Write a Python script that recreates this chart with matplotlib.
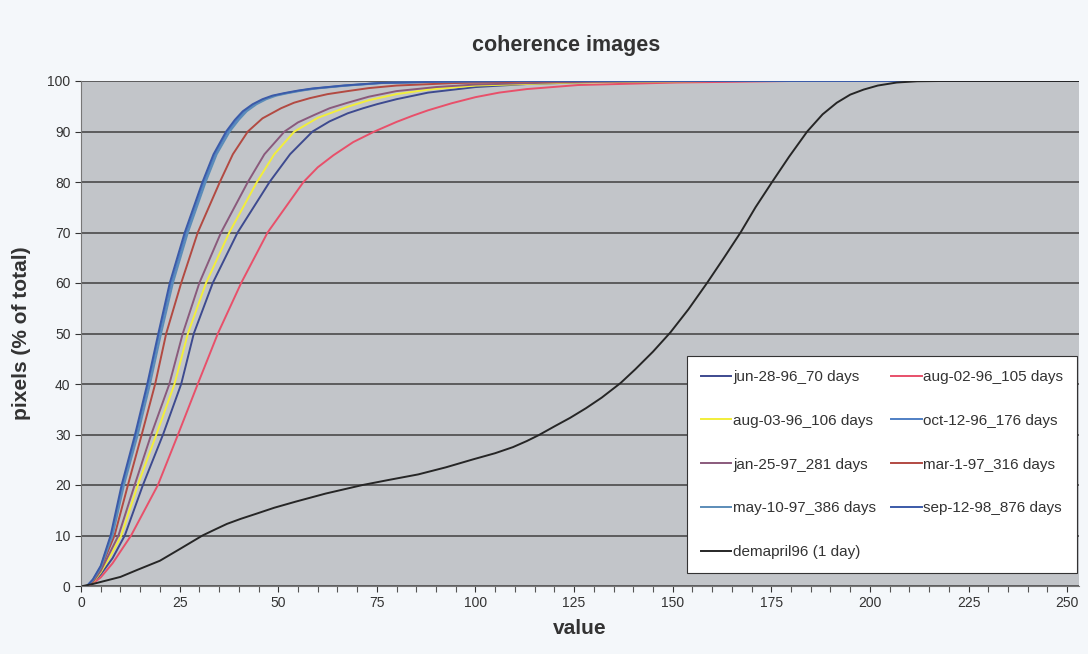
"""
Cumulative histograms of coherence image values (Excel-style chart).
"""
import matplotlib
matplotlib.use("Agg")
import matplotlib.pyplot as plt

plt.rcParams["font.family"] = ["Liberation Sans", "DejaVu Sans"]

# values: x = coherence value, y = pixels (% of total)
jun28_x = [1.5, 3, 5, 8, 11.1, 15.7, 20.8, 25.4, 28.6, 33.4, 39.7, 47.8, 53, 58.7, 63, 67.6, 71.5, 75, 80, 88, 100, 113, 130, 170, 255]
jun28_y = [0, 0.6, 2.3, 5.5, 10, 20, 30, 40, 50, 60, 70, 80, 85.5, 90, 92, 93.6, 94.6, 95.4, 96.4, 97.7, 98.8, 99.4, 99.8, 100, 100]

aug02_x = [1.5, 3, 5, 8, 12.7, 19.5, 24.6, 29.6, 34.7, 40.6, 47.3, 56.4, 60, 64, 69, 74.4, 80, 84, 88, 94, 100, 106, 113, 126, 151, 180, 255]
aug02_y = [0, 0.5, 1.7, 4.5, 10, 20, 30, 40, 50, 60, 70, 80, 82.9, 85.3, 87.9, 90, 91.9, 93.1, 94.2, 95.6, 96.8, 97.7, 98.4, 99.2, 99.7, 100, 100]

aug03_x = [1.5, 3, 5, 7.5, 10.2, 14.4, 19.1, 23.7, 27.1, 31.7, 37.6, 44.6, 49, 54.1, 60, 67.6, 73, 80, 88, 100, 125, 160, 255]
aug03_y = [0, 0.7, 2.7, 6, 10, 20, 30, 40, 50, 60, 70, 80, 85.5, 90, 92.7, 94.9, 96.2, 97.4, 98.3, 99.1, 99.7, 100, 100]

oct12_x = [1.5, 3, 5, 7.7, 10.6, 14.0, 17.1, 19.9, 22.9, 26.7, 31.2, 34, 37.2, 39.5, 41.5, 44, 46.5, 49, 52, 55.5, 59, 67, 76, 90, 110, 255]
oct12_y = [0, 1.2, 3.8, 10, 20, 30, 40, 50, 60, 70, 80, 85.5, 90, 92.3, 94, 95.4, 96.4, 97.1, 97.6, 98.1, 98.5, 99.1, 99.6, 99.85, 100, 100]

jan25_x = [1.5, 3, 5, 9.5, 13.6, 17.8, 22.4, 25.8, 30.0, 35.5, 42.3, 46.5, 51.6, 55, 59.2, 63, 67.6, 73, 80, 90, 100, 125, 160, 255]
jan25_y = [0, 0.8, 3, 10, 20, 30, 40, 50, 60, 70, 80, 85.5, 90, 91.8, 93.3, 94.6, 95.7, 96.9, 98.0, 98.8, 99.3, 99.8, 100, 100]

mar01_x = [1.5, 3, 5, 8.5, 11.9, 15.4, 18.8, 21.6, 25.4, 29.6, 35.2, 38.5, 42.3, 46, 50.7, 54, 58, 62.5, 67.6, 73, 80, 95, 115, 140, 255]
mar01_y = [0, 0.9, 3.5, 10, 20, 30, 40, 50, 60, 70, 80, 85.5, 90, 92.6, 94.6, 95.7, 96.6, 97.4, 98.0, 98.6, 99.1, 99.6, 99.9, 100, 100]

may10_x = [1.5, 3, 5, 8.0, 10.9, 14.4, 17.5, 20.3, 23.3, 27.1, 31.6, 34.4, 37.7, 40, 42, 44.5, 47, 49.5, 52.5, 56, 59.5, 67.5, 76.5, 90, 110, 255]
may10_y = [0, 1.1, 3.6, 10, 20, 30, 40, 50, 60, 70, 80, 85.5, 90, 92.3, 94, 95.4, 96.4, 97.1, 97.6, 98.1, 98.5, 99.1, 99.6, 99.85, 100, 100]

sep12_x = [1.5, 3, 5, 7.5, 10.3, 13.7, 16.8, 19.6, 22.5, 26.3, 30.8, 33.6, 36.8, 39, 41, 43.5, 46, 48.5, 51.5, 55, 58.5, 66.5, 75.5, 90, 110, 255]
sep12_y = [0, 1.3, 4.0, 10, 20, 30, 40, 50, 60, 70, 80, 85.5, 90, 92.3, 94, 95.4, 96.4, 97.1, 97.6, 98.1, 98.5, 99.1, 99.6, 99.85, 100, 100]

dem_x = [0.5, 3, 5, 7.5, 10, 14.3, 20, 25, 30.8, 34, 37, 40.5, 44.4, 49, 54.4, 62, 71.4, 78, 85.5, 92.5, 99.5, 105,
         109.5, 113, 116.1, 120, 124, 128, 132, 136.8, 140.5, 145, 149.4, 154, 158.7, 163, 167.2,
         171, 175.2, 179.5, 184.1, 188, 191.6, 195, 198.4, 202, 206.8, 212, 218, 255]
dem_y = [0, 0.4, 0.8, 1.3, 1.8, 3.2, 5, 7.3, 10, 11.2, 12.3, 13.3, 14.3, 15.5, 16.7, 18.3, 20, 21, 22.1, 23.5, 25.1, 26.3,
         27.5, 28.7, 29.9, 31.6, 33.3, 35.2, 37.3, 40.2, 42.9, 46.4, 50.2, 54.8, 60, 65, 70,
         75, 80, 85, 90, 93.4, 95.7, 97.3, 98.3, 99.1, 99.7, 99.95, 100, 100]

series = [
    ("jun-28-96_70 days",   jun28_x, jun28_y, "#3d4a8f"),
    ("aug-02-96_105 days",  aug02_x, aug02_y, "#e8506a"),
    ("aug-03-96_106 days",  aug03_x, aug03_y, "#f2ee3a"),
    ("oct-12-96_176 days",  oct12_x, oct12_y, "#4f7fc4"),
    ("jan-25-97_281 days",  jan25_x, jan25_y, "#8a5a7c"),
    ("mar-1-97_316 days",   mar01_x, mar01_y, "#b24a42"),
    ("may-10-97_386 days",  may10_x, may10_y, "#5b8cb8"),
    ("sep-12-98_876 days",  sep12_x, sep12_y, "#3b5aa8"),
    ("demapril96 (1 day)",  dem_x,   dem_y,   "#262626"),
]

fig = plt.figure(figsize=(10.88, 6.54), dpi=100, facecolor="#f4f7fa")
ax = fig.add_axes([81 / 1088, 68 / 654, 998 / 1088, 505 / 654])
ax.set_facecolor("#c2c5c9")

lines = {}
for name, xs, ys, col in series:
    lines[name], = ax.plot(xs, ys, color=col, lw=1.4, label=name)

ax.set_xlim(0, 253)
ax.set_ylim(0, 100)
ax.set_xticks(range(0, 251, 25))
ax.set_xticks(range(0, 254, 5), minor=True)
ax.set_yticks(range(0, 101, 10))
ax.tick_params(axis="both", labelsize=10, colors="#333333", length=4, width=0.8)
ax.tick_params(axis="x", which="minor", length=4, width=0.8, colors="#555555")
ax.yaxis.grid(True, color="#4a4a4a", lw=1.2)
ax.set_axisbelow(True)
for s in ["top", "right"]:
    ax.spines[s].set_visible(False)
for s in ["left", "bottom"]:
    ax.spines[s].set_color("#777777")

ax.set_xlabel("value", fontsize=15, fontweight="bold", color="#333333", labelpad=6)
ax.set_ylabel("pixels (% of total)", fontsize=15, fontweight="bold", color="#333333", labelpad=12)
fig.text(0.52, 0.931, "coherence images", ha="center", va="center",
         fontsize=15.5, fontweight="bold", color="#333333")

# legend filled column-first: left column then right column
order = ["jun-28-96_70 days", "aug-03-96_106 days", "jan-25-97_281 days", "may-10-97_386 days",
         "demapril96 (1 day)", "aug-02-96_105 days", "oct-12-96_176 days", "mar-1-97_316 days",
         "sep-12-98_876 days"]
leg = ax.legend([lines[n] for n in order], order, ncol=2, loc="lower right",
                bbox_to_anchor=(0.998, 0.026), borderaxespad=0, fontsize=11,
                labelspacing=1.95, handlelength=2.0, handletextpad=0.1, columnspacing=1.0,
                frameon=True, fancybox=False, borderpad=0.9, framealpha=1)
leg.get_frame().set_facecolor("white")
leg.get_frame().set_edgecolor("#333333")
leg.get_frame().set_linewidth(0.8)
for t in leg.get_texts():
    t.set_color("#333333")

fig.savefig("out.png", dpi=100, facecolor=fig.get_facecolor())
